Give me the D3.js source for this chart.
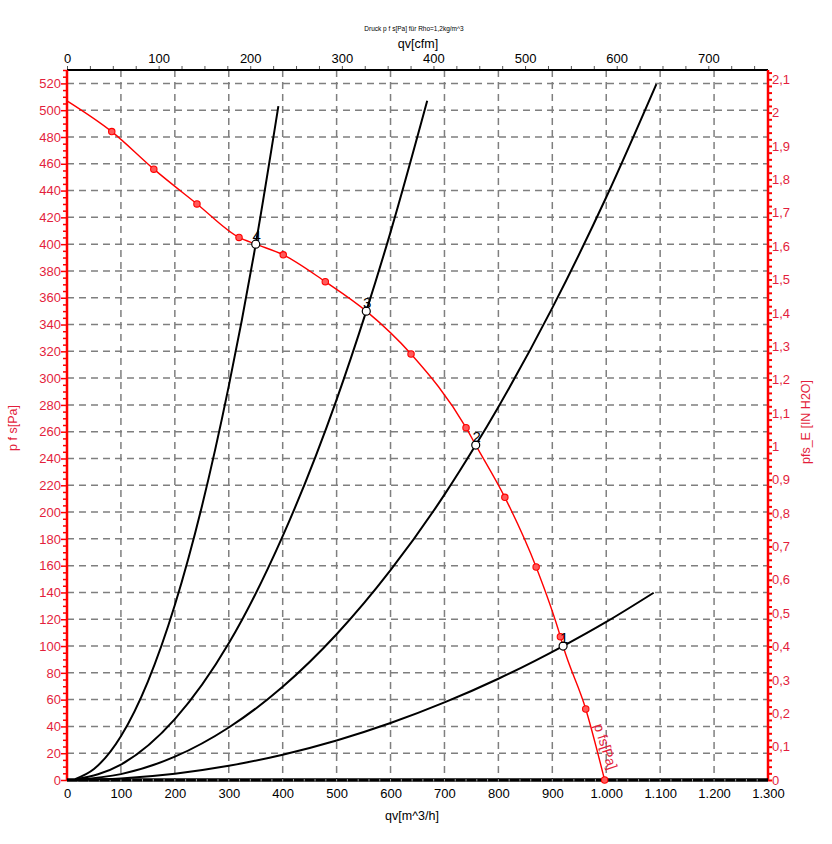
<!DOCTYPE html>
<html><head><meta charset="utf-8">
<script src="https://cdn.jsdelivr.net/npm/d3@7"></script>
<style>body{margin:0;background:#fff}svg{display:block;font-family:"Liberation Sans",Arial,sans-serif}</style>
</head><body><svg id="c" width="832" height="844"></svg>
<script>
// ---- data ----
const xTicks = [0,100,200,300,400,500,600,700,800,900,1000,1100,1200,1300];
const yTicks = [0,20,40,60,80,100,120,140,160,180,200,220,240,260,280,300,320,340,360,380,400,420,440,460,480,500,520];
const yRTicks = [0,0.1,0.2,0.3,0.4,0.5,0.6,0.7,0.8,0.9,1,1.1,1.2,1.3,1.4,1.5,1.6,1.7,1.8,1.9,2,2.1];
const cfmTicks = [0,100,200,300,400,500,600,700];
// fan curve p fs [Pa] vs qv [m^3/h]
const fanQ = [0, 83, 161, 241, 319, 350, 401, 479, 555, 638, 740, 758, 812, 870, 915, 920, 962, 997];
const fanP = [507, 484, 456, 430, 405, 400, 392, 372, 350, 318, 263, 250, 211, 159, 107, 100, 53, 0];
const fanMarkQ = [83, 161, 241, 319, 401, 479, 638, 740, 812, 870, 915, 962, 997];
const fanMarkP = [484, 456, 430, 405, 392, 372, 318, 263, 211, 159, 107, 53, 0];
// system curves
const sys1Q = [15, 100, 200, 300, 400, 500, 600, 700, 800, 920, 1000, 1088];
const sys1P = [0, 1.2, 4.7, 10.6, 18.9, 29.5, 42.5, 57.9, 75.6, 100, 118, 139.8];
const sys2Q = [15, 100, 200, 300, 400, 500, 600, 700, 758, 800, 900, 1000, 1093];
const sys2P = [0.1, 4.4, 17.4, 39.2, 69.6, 108.8, 156.6, 213, 250, 278.5, 352.4, 435, 519.5];
const sys3Q = [15, 100, 200, 300, 400, 500, 555, 600, 668];
const sys3P = [0.3, 11.4, 45.4, 102, 182, 284, 350, 409, 507];
const sys4Q = [15, 50, 100, 150, 200, 250, 300, 350, 392];
const sys4P = [0.7, 8.2, 32.7, 73.5, 130.6, 204, 294, 400, 503];
// operating points
const opQ = [920, 758, 555, 350];
const opP = [100, 250, 350, 400];
const opLabels = ["1", "2", "3", "4"];

// ---- chart ----
const svg = d3.select("#c");
const L = 67, R = 768, T = 70, B = 780;
const RED = "#ff0000", TXT = "#e31e3c";
const x = d3.scaleLinear().domain([0,1300]).range([L,R]);
const y = d3.scaleLinear().domain([0,530]).range([B,T]);
const yR = d3.scaleLinear().domain([0,530/249.089]).range([B,T]);
const xTop = d3.scaleLinear().domain([0,1300/1.699]).range([L,R]);
const fmtDe = d3.formatLocale({decimal:",", thousands:".", grouping:[3], currency:["","€"]});
const fX = fmtDe.format(",d");
const fR = v => fmtDe.format(",.1f")(v).replace(/,0$/, "");

// grid
const gridG = svg.append("g");
gridG.selectAll("line.h").data(yTicks.filter(d=>d>0)).join("line")
  .attr("x1",L).attr("x2",R).attr("y1",d=>y(d)).attr("y2",d=>y(d))
  .attr("stroke","#7f7f7f").attr("stroke-width",1.5).attr("stroke-dasharray","7,5");
gridG.append("g").selectAll("line").data(xTicks.filter(d=>d>0 && d<1300)).join("line")
  .attr("y1",T).attr("y2",B).attr("x1",d=>x(d)).attr("x2",d=>x(d))
  .attr("stroke","#7f7f7f").attr("stroke-width",1.5).attr("stroke-dasharray","7,5");

// top axis (cfm)
const topAx = svg.append("g").attr("transform",`translate(0,${T})`)
  .call(d3.axisTop(xTop).tickValues(d3.range(0,766,25)).tickSize(4).tickFormat(d=> d%100===0 ? d : ""));
topAx.select(".domain").remove();
topAx.selectAll(".tick line").attr("stroke","#555");
topAx.selectAll("text").attr("font-size",13).attr("fill","#000").attr("font-family","Liberation Sans, Arial, sans-serif");
svg.append("line").attr("x1",L).attr("x2",R).attr("y1",T).attr("y2",T).attr("stroke","#000").attr("stroke-width",2);

// bottom axis
const botAx = svg.append("g").attr("transform",`translate(0,${B})`)
  .call(d3.axisBottom(x).tickValues(xTicks).tickSize(0).tickPadding(9).tickFormat(fX));
botAx.select(".domain").remove();
botAx.selectAll("text").attr("font-size",13).attr("fill","#000").attr("font-family","Liberation Sans, Arial, sans-serif");

// left axis
const leftAx = svg.append("g").attr("transform",`translate(${L},0)`)
  .call(d3.axisLeft(y).tickValues(d3.range(0,531,5)).tickSize(4).tickPadding(2).tickFormat(d=> d%20===0 ? d : ""));
leftAx.select(".domain").remove();
leftAx.selectAll(".tick line").attr("stroke",RED).attr("stroke-width",1.5);
leftAx.selectAll(".tick").filter(d=>d%20===0).select("line").attr("x2",-6);
leftAx.selectAll("text").attr("font-size",13).attr("fill",TXT).attr("font-family","Liberation Sans, Arial, sans-serif");
svg.append("line").attr("x1",L).attr("x2",L).attr("y1",T).attr("y2",B).attr("stroke",RED).attr("stroke-width",2.5);

// right axis
const rightAx = svg.append("g").attr("transform",`translate(${R},0)`)
  .call(d3.axisRight(yR).tickValues(d3.range(0,2.13,0.02)).tickSize(4).tickPadding(0)
    .tickFormat(d=> { const r = Math.round(d*100); return r%10===0 ? fR(r/100) : ""; }));
rightAx.select(".domain").remove();
rightAx.selectAll(".tick line").attr("stroke",RED).attr("stroke-width",2);
rightAx.selectAll("text").attr("font-size",13).attr("fill",TXT).attr("font-family","Liberation Sans, Arial, sans-serif");
svg.append("line").attr("x1",R).attr("x2",R).attr("y1",T).attr("y2",B).attr("stroke",RED).attr("stroke-width",2.5);

// bottom line
svg.append("line").attr("x1",L).attr("x2",R).attr("y1",B).attr("y2",B).attr("stroke","#000").attr("stroke-width",3.5);
svg.append("g").selectAll("line").data(d3.range(20,1300,20)).join("line")
  .attr("x1",d=>x(d)).attr("x2",d=>x(d)).attr("y1",B-1).attr("y2",B+1.5)
  .attr("stroke","#9a9a9a").attr("stroke-width",1);

// system curves
const line = d3.line().x(d=>x(d[0])).y(d=>y(d[1])).curve(d3.curveMonotoneX);
[[sys1Q,sys1P],[sys2Q,sys2P],[sys3Q,sys3P],[sys4Q,sys4P]].forEach(([q,p])=>{
  svg.append("path").datum(q.map((v,i)=>[v,p[i]])).attr("d",line)
    .attr("fill","none").attr("stroke","#000").attr("stroke-width",2);
});

// fan curve
svg.append("path").datum(fanQ.map((v,i)=>[v,fanP[i]])).attr("d",line)
  .attr("fill","none").attr("stroke",RED).attr("stroke-width",1.4);
svg.append("g").selectAll("circle").data(fanMarkQ.map((v,i)=>[v,fanMarkP[i]])).join("circle")
  .attr("cx",d=>x(d[0])).attr("cy",d=>y(d[1])).attr("r",3.2)
  .attr("fill","#ff5a5a").attr("stroke",RED).attr("stroke-width",1.1);

// operating points
svg.append("g").selectAll("circle").data(opQ.map((v,i)=>[v,opP[i]])).join("circle")
  .attr("cx",d=>x(d[0])).attr("cy",d=>y(d[1])).attr("r",4)
  .attr("fill","#fff").attr("stroke","#000").attr("stroke-width",1.2);
svg.append("g").selectAll("text").data(opQ.map((v,i)=>[v,opP[i],opLabels[i]])).join("text")
  .attr("x",d=>x(d[0])+1).attr("y",d=>y(d[1])-3).attr("text-anchor","middle")
  .attr("font-size",15).attr("fill","#000").text(d=>d[2]);

// curve label
svg.append("text").attr("transform","translate(601,748) rotate(72)").attr("text-anchor","middle")
  .attr("font-size",14).attr("fill",TXT).text("p fs[Pa]");

// titles
svg.append("text").attr("x",414).attr("y",31).attr("text-anchor","middle").attr("font-size",6.5).attr("fill","#000")
  .text("Druck p f s[Pa] für Rho=1,2kg/m^3");
svg.append("text").attr("x",418).attr("y",48).attr("text-anchor","middle").attr("font-size",12.5).attr("fill","#000").text("qv[cfm]");
svg.append("text").attr("x",412).attr("y",820).attr("text-anchor","middle").attr("font-size",12.5).attr("fill","#000").text("qv[m^3/h]");
svg.append("text").attr("transform","translate(17,428) rotate(-90)").attr("text-anchor","middle").attr("font-size",12.5).attr("fill",TXT).text("p f s[Pa]");
svg.append("text").attr("transform","translate(810,422) rotate(-90)").attr("text-anchor","middle").attr("font-size",12.5).attr("fill",TXT).text("pfs_E [IN H2O]");
</script></body></html>
